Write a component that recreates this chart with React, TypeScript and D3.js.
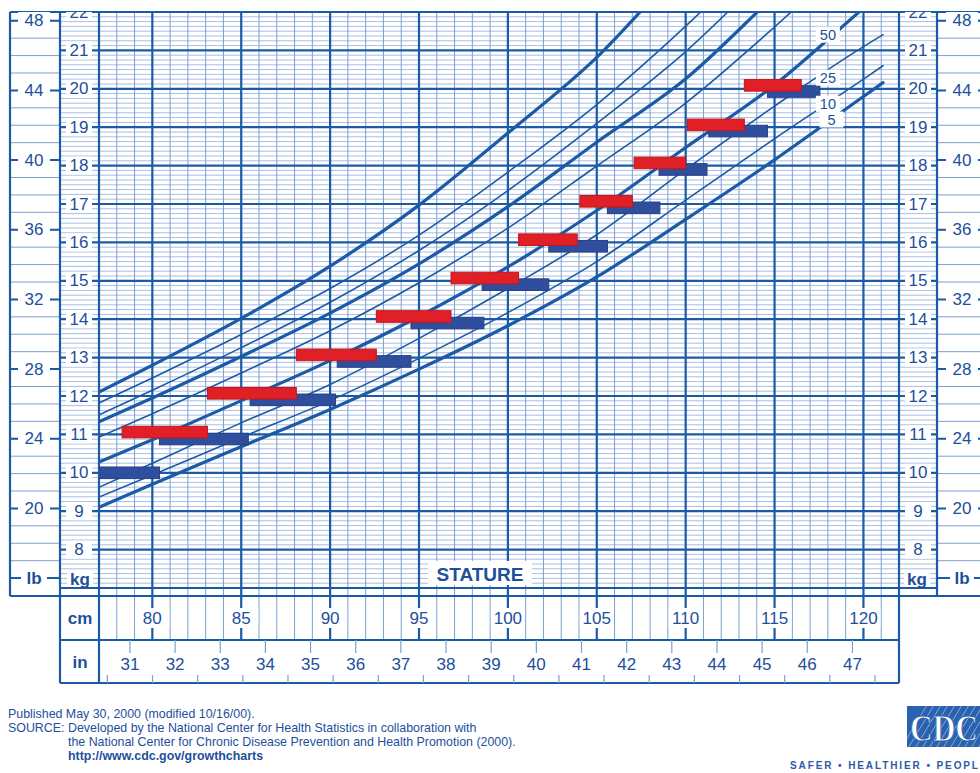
import React from "react";
import * as d3 from "d3";

// ---- Data ----
// Stature points (cm) at which the percentile curves were read
const CM_UPPER = [77, 80, 85, 90, 95, 100, 105, 110, 115, 120, 122];
const CM_LOWER = [77, 80, 85, 90, 95, 100, 105, 110, 115, 120, 121.1];

// Weight (kg) of each percentile curve
const P5 = [9.1, 9.7, 10.68, 11.65, 12.7, 13.83, 15.1, 16.6, 18.15, 19.8, 20.16];
const P10 = [9.37, 9.94, 10.92, 11.88, 12.98, 14.17, 15.5, 17.1, 18.7, 20.25, 20.6];
const P25 = [9.62, 10.25, 11.3, 12.3, 13.5, 14.8, 16.2, 17.9, 19.55, 21.1, 21.41];
const P50 = [10.28, 10.86, 11.88, 12.92, 14.07, 15.36, 16.83, 18.47, 20.1, 22.1, 22.9];
const P75 = [10.93, 11.54, 12.6, 13.7, 14.95, 16.37, 17.99, 19.63, 21.61, 23.75, 24.6];
const P85 = [11.33, 11.95, 13.03, 14.16, 15.44, 16.93, 18.61, 20.26, 22.43, 24.6, 25.4];
const P90 = [11.51, 12.15, 13.26, 14.44, 15.79, 17.35, 19.1, 20.97, 23.2, 25.5, 26.4];
const P95 = [11.82, 12.47, 13.6, 14.8, 16.19, 17.83, 19.59, 21.63, 23.9, 26.1, 27.0];
const P97 = [12.1, 12.8, 14.02, 15.38, 16.97, 18.85, 20.82, 23.3, 25.7, 28.0, 29.0];

const CURVE_NAMES = ["5", "10", "25", "50", "75", "85", "90", "95", "97"];
const CURVE_BOLD = [true, false, false, true, false, true, false, false, true];

// Percentile labels drawn on the right
const PCT_LABELS = ["50", "25", "10", "5"];
const PCT_LABEL_CM = [118.0, 118.0, 118.0, 118.2];
const PCT_LABEL_KG = [21.41, 20.29, 19.61, 19.2];

// Red bars: weight level, start and end stature (cm)
const RED_KG = [11.06, 12.07, 13.07, 14.07, 15.07, 16.07, 17.07, 18.07, 19.06, 20.09];
const RED_START = [78.3, 83.1, 88.1, 92.6, 96.8, 100.6, 104.05, 107.1, 110.1, 113.3];
const RED_END = [83.1, 88.1, 92.6, 96.8, 100.6, 103.9, 107.0, 110.0, 113.3, 116.5];

// Blue bars
const BLUE_KG = [10.0, 10.88, 11.9, 12.9, 13.9, 14.9, 15.9, 16.9, 17.9, 18.9, 19.93];
const BLUE_START = [77.0, 80.4, 85.5, 90.4, 94.55, 98.55, 102.3, 105.6, 108.5, 111.3, 114.6];
const BLUE_END = [80.4, 85.4, 90.3, 94.55, 98.65, 102.3, 105.6, 108.55, 111.2, 114.6, 117.55];

// Axis ticks
const KG_TICKS = [8, 9, 10, 11, 12, 13, 14, 15, 16, 17, 18, 19, 20, 21, 22];
const LB_TICKS = [20, 24, 28, 32, 36, 40, 44, 48];
const CM_TICKS = [80, 85, 90, 95, 100, 105, 110, 115, 120];
const IN_TICKS = [31, 32, 33, 34, 35, 36, 37, 38, 39, 40, 41, 42, 43, 44, 45, 46, 47];

const FOOTER = [
  "Published May 30, 2000 (modified 10/16/00).",
  "SOURCE: ",
  "Developed by the National Center for Health Statistics in collaboration with",
  "the National Center for Chronic Disease Prevention and Health Promotion (2000).",
  "http://www.cdc.gov/growthcharts",
];

const LINE = "#1b5aa7";
const MINOR = "#7d9fd2";
const MINOR_H = "#a9bee2";
const TXT = "#1d4f9c";
const FONT = "'Liberation Sans', Arial, Helvetica, sans-serif";

export default function App() {
  const x = d3.scaleLinear().domain([77, 122]).range([99, 899]);
  const y = d3.scaleLinear().domain([7, 22]).range([588, 12]);
  const LB = 2.20462;
  const yLb = (lb: number) => y(lb / LB);
  const xIn = (inch: number) => x(inch * 2.54);

  const TOP = 12;
  const PLOT_L = 99, PLOT_R = 899, PLOT_B = 588;
  const ROW1 = 596, ROW2 = 640, ROW3 = 683;

  const curves = [P5, P10, P25, P50, P75, P85, P90, P95, P97];
  const cmFor = (i: number) => (i < 3 ? CM_LOWER : CM_UPPER);
  const line = d3
    .line<[number, number]>()
    .x((d) => x(d[0]))
    .y((d) => y(d[1]))
    .curve(d3.curveMonotoneX);

  const minorKg = d3.range(7, 22.001, 0.125).filter((v) => Math.abs(v - Math.round(v)) > 0.01);
  const minorCm = d3.range(77, 122.5, 1).filter((v) => v % 5 !== 0);
  const lbLines = d3.range(16, 49, 1);

  const numStyle: any = { fontFamily: FONT, fontSize: 17, fill: TXT };

  return (
    <svg
      width={980}
      height={773}
      style={{ position: "absolute", left: 0, top: 0, background: "#fff" }}
      viewBox="0 0 980 773"
    >
      <defs>
        <clipPath id="plotClip">
          <rect x={PLOT_L} y={TOP} width={PLOT_R - PLOT_L} height={PLOT_B - TOP} />
        </clipPath>
        <clipPath id="topClip">
          <rect x={0} y={TOP} width={980} height={773} />
        </clipPath>
        <clipPath id="logoClip">
          <rect x={907} y={706} width={80} height={41} />
        </clipPath>
      </defs>
      <rect x={0} y={0} width={980} height={773} fill="#fff" />

      {/* minor horizontal kg lines */}
      {minorKg.map((v) => (
        <line key={"mk" + v} x1={60} x2={937} y1={y(v)} y2={y(v)} stroke={MINOR_H} strokeWidth={1} />
      ))}
      {/* lb band lines */}
      {lbLines.map((v) => (
        <g key={"lb" + v}>
          <line x1={10} x2={60} y1={yLb(v)} y2={yLb(v)} stroke={MINOR} strokeWidth={1} />
          <line x1={937} x2={980} y1={yLb(v)} y2={yLb(v)} stroke={MINOR} strokeWidth={1} />
        </g>
      ))}
      {/* minor verticals */}
      {minorCm.map((v) => (
        <line key={"mc" + v} x1={x(v)} x2={x(v)} y1={TOP} y2={ROW2} stroke={MINOR} strokeWidth={1} />
      ))}
      {/* major kg lines */}
      {d3.range(7, 23).map((v) => (
        <line key={"MK" + v} x1={60} x2={937} y1={y(v)} y2={y(v)} stroke={LINE} strokeWidth={2.2} />
      ))}
      {/* major lb ticks */}
      {[...LB_TICKS, 16].map((v) => (
        <g key={"LB" + v}>
          <line x1={10} x2={60} y1={yLb(v)} y2={yLb(v)} stroke={LINE} strokeWidth={2} />
          <line x1={937} x2={980} y1={yLb(v)} y2={yLb(v)} stroke={LINE} strokeWidth={2} />
        </g>
      ))}
      {/* major cm verticals */}
      {CM_TICKS.map((v) => (
        <line key={"MC" + v} x1={x(v)} x2={x(v)} y1={TOP} y2={ROW2} stroke={LINE} strokeWidth={2.2} />
      ))}

      {/* frame lines */}
      <g stroke={LINE} strokeWidth={2.2} fill="none">
        <line x1={10} x2={10} y1={TOP} y2={ROW1} />
        <line x1={60} x2={60} y1={TOP} y2={ROW3} />
        <line x1={PLOT_L} x2={PLOT_L} y1={TOP} y2={ROW3} />
        <line x1={PLOT_R} x2={PLOT_R} y1={TOP} y2={ROW3} />
        <line x1={937} x2={937} y1={TOP} y2={ROW1} />
        <line x1={10} x2={980} y1={ROW1} y2={ROW1} />
        <line x1={60} x2={PLOT_R} y1={ROW2} y2={ROW2} />
        <line x1={60} x2={PLOT_R} y1={ROW3} y2={ROW3} />
        <line x1={10} x2={980} y1={TOP} y2={TOP} />
      </g>

      {/* inch ticks */}
      {IN_TICKS.map((v) => (
        <line key={"it" + v} x1={xIn(v)} x2={xIn(v)} y1={ROW2} y2={ROW2 + 13} stroke={MINOR} strokeWidth={1.2} />
      ))}
      {IN_TICKS.map((v) => (
        <line key={"ih" + v} x1={xIn(v - 0.5)} x2={xIn(v - 0.5)} y1={ROW3 - 8} y2={ROW3} stroke={MINOR} strokeWidth={1.2} />
      ))}
      <line x1={xIn(47.5)} x2={xIn(47.5)} y1={ROW3 - 8} y2={ROW3} stroke={MINOR} strokeWidth={1.2} />

      {/* percentile curves */}
      <g clipPath="url(#plotClip)" fill="none" stroke={LINE} strokeLinecap="round">
        {curves.map((vals, i) => (
          <path
            key={CURVE_NAMES[i]}
            d={line(cmFor(i).map((c, j) => [c, vals[j]] as [number, number])) || ""}
            strokeWidth={CURVE_BOLD[i] ? 3.2 : 1.6}
          />
        ))}
      </g>

      {/* bars */}
      <g clipPath="url(#plotClip)">
        {BLUE_KG.map((k, i) => (
          <rect
            key={"b" + i}
            x={x(BLUE_START[i])}
            y={y(k) - 5.8}
            width={x(BLUE_END[i]) - x(BLUE_START[i])}
            height={11.6}
            fill="#2f4f9e"
            stroke="#243f86"
            strokeWidth={1}
          />
        ))}
        {RED_KG.map((k, i) => (
          <rect
            key={"r" + i}
            x={x(RED_START[i])}
            y={y(k) - 5.8}
            width={x(RED_END[i]) - x(RED_START[i])}
            height={11.6}
            fill="#e01f26"
            stroke="#c4161d"
            strokeWidth={1}
          />
        ))}
      </g>

      {/* percentile labels */}
      {PCT_LABELS.map((t, i) => (
        <g key={"pl" + t}>
          <rect x={x(PCT_LABEL_CM[i]) - 12} y={y(PCT_LABEL_KG[i]) - 8} width={24} height={16} fill="#fff" />
          <text
            x={x(PCT_LABEL_CM[i])}
            y={y(PCT_LABEL_KG[i])}
            textAnchor="middle"
            dominantBaseline="central"
            style={{ fontFamily: FONT, fontSize: 14.5, fill: TXT }}
          >
            {t}
          </text>
        </g>
      ))}

      {/* kg labels */}
      <g clipPath="url(#topClip)">
        {KG_TICKS.map((v) => (
          <g key={"kl" + v}>
            <rect x={66} y={y(v) - 9} width={26} height={18} fill="#fff" />
            <text x={79} y={y(v)} textAnchor="middle" dominantBaseline="central" style={numStyle}>
              {v}
            </text>
            <rect x={905} y={y(v) - 9} width={26} height={18} fill="#fff" />
            <text x={918} y={y(v)} textAnchor="middle" dominantBaseline="central" style={numStyle}>
              {v}
            </text>
          </g>
        ))}
        {LB_TICKS.map((v) => (
          <g key={"ll" + v}>
            <rect x={18} y={yLb(v) - 9} width={32} height={18} fill="#fff" />
            <text x={34} y={yLb(v)} textAnchor="middle" dominantBaseline="central" style={numStyle}>
              {v}
            </text>
            <rect x={946} y={yLb(v) - 9} width={32} height={18} fill="#fff" />
            <text x={962} y={yLb(v)} textAnchor="middle" dominantBaseline="central" style={numStyle}>
              {v}
            </text>
          </g>
        ))}
      </g>
      {/* unit labels */}
      <rect x={67} y={570} width={26} height={17} fill="#fff" />
      <text x={80} y={579} textAnchor="middle" dominantBaseline="central" style={{ ...numStyle, fontWeight: "bold" }}>
        kg
      </text>
      <rect x={904} y={570} width={26} height={17} fill="#fff" />
      <text x={917} y={579} textAnchor="middle" dominantBaseline="central" style={{ ...numStyle, fontWeight: "bold" }}>
        kg
      </text>
      <rect x={21} y={569} width={26} height={18} fill="#fff" />
      <text x={34} y={578} textAnchor="middle" dominantBaseline="central" style={{ ...numStyle, fontWeight: "bold" }}>
        lb
      </text>
      <rect x={950} y={569} width={24} height={18} fill="#fff" />
      <text x={962} y={578} textAnchor="middle" dominantBaseline="central" style={{ ...numStyle, fontWeight: "bold" }}>
        lb
      </text>

      {/* STATURE */}
      <rect x={428} y={561} width={104} height={24} fill="#fff" />
      <text x={480} y={574} textAnchor="middle" dominantBaseline="central" style={{ fontFamily: FONT, fontSize: 19, fontWeight: "bold", fill: TXT }}>
        STATURE
      </text>

      {/* cm row */}
      <text x={80} y={618} textAnchor="middle" dominantBaseline="central" style={{ ...numStyle, fontWeight: "bold" }}>
        cm
      </text>
      {CM_TICKS.map((v) => (
        <g key={"cl" + v}>
          <rect x={x(v) - 17} y={608} width={34} height={20} fill="#fff" />
          <text x={x(v)} y={618} textAnchor="middle" dominantBaseline="central" style={numStyle}>
            {v}
          </text>
        </g>
      ))}
      {/* in row */}
      <text x={80} y={662} textAnchor="middle" dominantBaseline="central" style={{ ...numStyle, fontWeight: "bold" }}>
        in
      </text>
      {IN_TICKS.map((v) => (
        <text key={"il" + v} x={xIn(v)} y={664} textAnchor="middle" dominantBaseline="central" style={numStyle}>
          {v}
        </text>
      ))}

      {/* footer */}
      <g style={{ fontFamily: FONT, fontSize: 12.4, fill: TXT }}>
        <text x={8} y={718}>{FOOTER[0]}</text>
        <text x={8} y={732}>{FOOTER[1]}</text>
        <text x={68} y={732}>{FOOTER[2]}</text>
        <text x={68} y={746}>{FOOTER[3]}</text>
        <text x={68} y={760} style={{ fontWeight: "bold" }}>{FOOTER[4]}</text>
      </g>

      {/* CDC logo */}
      <rect x={907} y={706} width={80} height={41} fill="#2a62b0" />
      <g clipPath="url(#logoClip)" stroke="#cfe0f5" strokeWidth={0.8} opacity={0.7}>
        {d3.range(0, 16).map((i) => (
          <line key={"st" + i} x1={900 + i * 7} y1={750} x2={930 + i * 7} y2={700} />
        ))}
      </g>
      <text
        x={910}
        y={741}
        style={{ fontFamily: "'Liberation Serif', 'DejaVu Serif', serif", fontSize: 38, fontWeight: "bold", fill: "#fff", stroke: "#2a62b0", strokeWidth: 1 }}
        textLength={68}
        lengthAdjust="spacingAndGlyphs"
      >
        CDC
      </text>
      <text x={790} y={769} style={{ fontFamily: FONT, fontSize: 10, fontWeight: "bold", fill: "#2c5aa8", letterSpacing: 1.9 }}>
        SAFER • HEALTHIER • PEOPLE
      </text>
    </svg>
  );
}
